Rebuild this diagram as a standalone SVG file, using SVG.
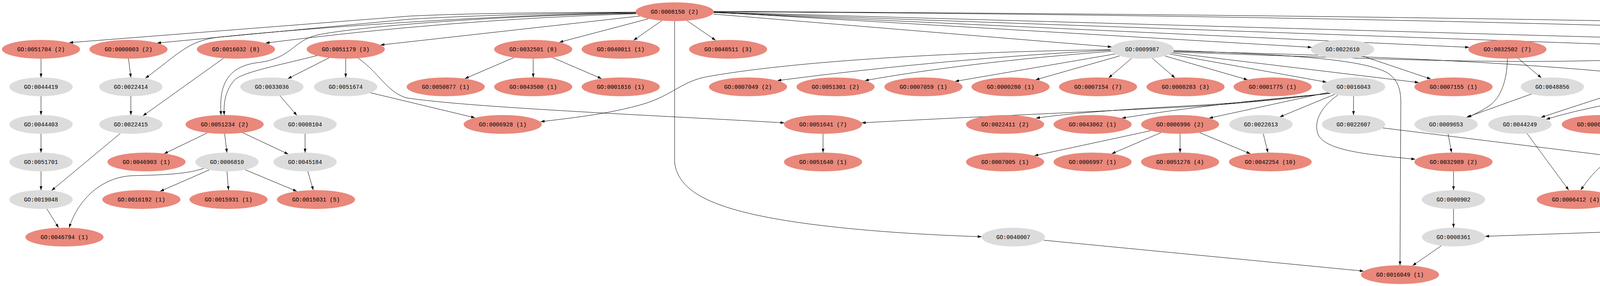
<svg xmlns="http://www.w3.org/2000/svg" width="6189" height="731" viewBox="0 0 6189 731">
<style>
.p{fill:#e9887b}
.g{fill:#dcdcdc}
text{font-family:"Liberation Mono","DejaVu Sans Mono",monospace;font-size:14.5px;text-anchor:middle;fill:#000}
#edges path{fill:none;stroke:#000;stroke-width:1;marker-end:url(#a)}
</style>
<defs>
<marker id="a" markerWidth="10" markerHeight="7" refX="10" refY="3.5" orient="auto" markerUnits="userSpaceOnUse"><path d="M0,0 L10,3.5 L0,7 z" fill="#000"/></marker>
</defs>
<rect width="6189" height="731" fill="#fff"/>
<g id="edges">
<path d="M1628,31 C1400,32 1200,34 1050,41 L177,109"/>
<path d="M1628,32 C1400,34 1200,40 1050,49 L402,110"/>
<path d="M1628,33 C1300,36 800,70 560,95 C480,104 455,140 372,200"/>
<path d="M1628,34 C1250,40 900,70 810,90 C750,105 745,150 660,160 C580,170 560,220 566,294"/>
<path d="M1629,35 Q1150,50 680,110"/>
<path d="M1638,41 L974,115"/>
<path d="M1660,48 L1432,108"/>
<path d="M1694,53 L1622,103"/>
<path d="M1759,53 L1832,103"/>
<path d="M1727,54 L1727,415 C1735,480 1800,520 1938,550 C2100,585 2350,600 2513,605"/>
<path d="M1826,36 L2846,120"/>
<path d="M1827,31 L3358,121"/>
<path d="M1827,32 L3761,121"/>
<path d="M1827,32 L4393,123"/>
<path d="M1827,31 L5091,123"/>
<path d="M1827,30 Q4000,41 5631,122"/>
<path d="M1827,29 Q4800,45 5846,109"/>
<path d="M105,150 L105,198"/>
<path d="M105,246 L105,294"/>
<path d="M105,342 L105,390"/>
<path d="M105,438 L105,486"/>
<path d="M120,534 L150,582"/>
<path d="M329,150 L335,198"/>
<path d="M335,246 L335,294"/>
<path d="M572,149 L366,296"/>
<path d="M308,341 L132,487"/>
<path d="M842,148 L737,201"/>
<path d="M885,150 L885,198"/>
<path d="M812,142 C700,170 620,185 600,205 C578,230 572,260 574,294"/>
<path d="M916,148 C970,185 990,235 1040,250 C1200,275 1700,296 2008,314"/>
<path d="M717,245 L760,295"/>
<path d="M781,342 L781,390"/>
<path d="M530,340 L420,393"/>
<path d="M575,342 L581,390"/>
<path d="M621,339 L738,394"/>
<path d="M536,434 L410,489"/>
<path d="M581,438 L585,486"/>
<path d="M628,434 L760,489"/>
<path d="M788,438 L802,486"/>
<path d="M522,430 C480,445 420,447 340,449 C260,452 200,510 177,582"/>
<path d="M948,237 L1216,301"/>
<path d="M1316,147 L1190,201"/>
<path d="M1365,150 L1365,198"/>
<path d="M1414,147 L1540,201"/>
<path d="M2845,128 Q2420,150 1990,206"/>
<path d="M2846,131 Q2470,160 2214,206"/>
<path d="M2854,138 L2445,208"/>
<path d="M2866,143 L2651,204"/>
<path d="M2897,149 L2838,199"/>
<path d="M2950,149 L3008,199"/>
<path d="M2843,127 C2400,133 2000,160 1800,198 C1740,213 1720,243 1650,265 C1560,292 1450,303 1384,311"/>
<path d="M2982,143 L3194,204"/>
<path d="M2994,138 L3396,210"/>
<path d="M2999,135 L3632,211"/>
<path d="M3490,144 L3663,202"/>
<path d="M3004,129 C3300,140 3480,150 3550,185 C3590,210 3586,250 3586,280 L3584,678"/>
<path d="M3004,131 Q3900,150 4313,205"/>
<path d="M3004,133 C3500,150 3800,162 4076,155 C4400,150 4750,175 4918,206"/>
<path d="M3886,149 L3946,199"/>
<path d="M3859,150 C3858,200 3845,250 3810,272 C3790,285 3775,292 3757,300"/>
<path d="M3921,240 L3754,300"/>
<path d="M3707,342 L3716,390"/>
<path d="M3425,243 C3385,270 3360,310 3375,345 C3395,385 3500,395 3623,407"/>
<path d="M3721,438 L3721,486"/>
<path d="M3721,534 L3721,582"/>
<path d="M3690,628 L3616,679"/>
<path d="M2672,614 L3491,693"/>
<path d="M5748,527 C5710,535 5690,537 5640,540 L3802,604"/>
<path d="M3405,238 C3300,252 3150,268 3000,275 C2700,290 2400,303 2206,314"/>
<path d="M3405,238 C3300,252 3150,265 3050,270 C2900,278 2750,288 2652,302"/>
<path d="M3405,239 Q3100,265 2872,302"/>
<path d="M3400,236 L3095,302"/>
<path d="M3417,241 L3276,299"/>
<path d="M3465,246 L3465,294"/>
<path d="M2946,334 L2648,398"/>
<path d="M2972,339 L2846,393"/>
<path d="M3021,342 L3021,390"/>
<path d="M3071,339 L3201,393"/>
<path d="M3234,342 L3246,390"/>
<path d="M2107,342 L2107,390"/>
<path d="M3540,327 L4159,403"/>
<path d="M4547,245 C4500,280 4470,310 4440,335 C4410,360 4360,380 4305,394"/>
<path d="M4419,144 L4237,204"/>
<path d="M4449,149 L4395,199"/>
<path d="M4498,149 L4552,199"/>
<path d="M4529,143 L4728,205"/>
<path d="M4547,136 Q4900,158 5140,209"/>
<path d="M4215,244 L4288,295"/>
<path d="M4129,240 L3945,300"/>
<path d="M4310,238 Q4100,262 3958,305"/>
<path d="M4319,240 L4154,298"/>
<path d="M4415,242 L4534,298"/>
<path d="M4443,233 L4917,307"/>
<path d="M4523,242 L4375,298"/>
<path d="M4577,246 L4577,294"/>
<path d="M4623,243 L4738,297"/>
<path d="M4650,239 C4850,255 5050,268 5175,276 C5240,282 5280,290 5312,302"/>
<path d="M4660,235 L5108,307"/>
<path d="M4784,246 L4784,294"/>
<path d="M4827,242 L4946,298"/>
<path d="M5150,148 L5038,201"/>
<path d="M5242,148 L5357,202"/>
<path d="M5268,144 L5528,207"/>
<path d="M5247,243 L5345,296"/>
<path d="M5441,243 L5551,297"/>
<path d="M5591,246 L5592,294"/>
<path d="M5592,342 L5592,486"/>
<path d="M5743,148 L5816,199"/>
<path d="M5772,142 L6010,204"/>
<path d="M5715,150 C5725,250 5760,380 5808,486"/>
<path d="M3909,341 L4016,486"/>
<path d="M4258,336 C4200,355 4150,380 4110,415 C4080,440 4060,465 4047,486"/>
<path d="M4554,341 L4503,391"/>
<path d="M4724,337 L4535,397"/>
<path d="M4415,428 L4108,494"/>
<path d="M4434,434 L4305,489"/>
<path d="M4480,438 L4480,486"/>
<path d="M4759,432 L4545,492"/>
<path d="M4931,334 C4850,355 4760,375 4720,390 C4690,405 4685,440 4685,486"/>
<path d="M5004,342 L5034,390"/>
<path d="M5047,335 L5256,396"/>
<path d="M5119,334 L4890,396"/>
<path d="M5149,340 L5080,391"/>
<path d="M5211,340 L5287,391"/>
<path d="M5009,436 L4913,489"/>
<path d="M5071,437 L5116,487"/>
<path d="M5040,437 C5020,470 5005,520 4995,570 C4985,620 4960,650 4918,680"/>
<path d="M4723,532 L4811,584"/>
<path d="M4869,534 L4856,582"/>
<path d="M4857,630 L4873,678"/>
<path d="M5137,534 L5137,582"/>
<path d="M5137,630 L5137,678"/>
<path d="M5332,438 L5356,486"/>
<path d="M5376,434 L5536,490"/>
</g>
<g id="n0008150"><ellipse class="p" cx="1727" cy="30" rx="100" ry="24"/><text x="1727" y="35">GO:0008150 (2)</text></g>
<g id="n0051704"><ellipse class="p" cx="105" cy="126" rx="100" ry="24"/><text x="105" y="131">GO:0051704 (2)</text></g>
<g id="n0000003"><ellipse class="p" cx="329" cy="126" rx="100" ry="24"/><text x="329" y="131">GO:0000003 (2)</text></g>
<g id="n0016032"><ellipse class="p" cx="604" cy="126" rx="100" ry="24"/><text x="604" y="131">GO:0016032 (8)</text></g>
<g id="n0051179"><ellipse class="p" cx="885" cy="126" rx="100" ry="24"/><text x="885" y="131">GO:0051179 (3)</text></g>
<g id="n0032501"><ellipse class="p" cx="1365" cy="126" rx="100" ry="24"/><text x="1365" y="131">GO:0032501 (8)</text></g>
<g id="n0040011"><ellipse class="p" cx="1589" cy="126" rx="100" ry="24"/><text x="1589" y="131">GO:0040011 (1)</text></g>
<g id="n0048511"><ellipse class="p" cx="1864" cy="126" rx="100" ry="24"/><text x="1864" y="131">GO:0048511 (3)</text></g>
<g id="n0009987"><ellipse class="g" cx="2924" cy="126" rx="81" ry="24"/><text x="2924" y="131">GO:0009987</text></g>
<g id="n0022610"><ellipse class="g" cx="3437" cy="126" rx="81" ry="24"/><text x="3437" y="131">GO:0022610</text></g>
<g id="n0032502"><ellipse class="p" cx="3859" cy="126" rx="100" ry="24"/><text x="3859" y="131">GO:0032502 (7)</text></g>
<g id="n0008152"><ellipse class="g" cx="4473" cy="126" rx="81" ry="24"/><text x="4473" y="131">GO:0008152</text></g>
<g id="n0050896"><ellipse class="p" cx="5196" cy="126" rx="106" ry="24"/><text x="5196" y="131">GO:0050896 (14)</text></g>
<g id="n0065007"><ellipse class="g" cx="5711" cy="126" rx="81" ry="24"/><text x="5711" y="131">GO:0065007</text></g>
<g id="n0002376"><ellipse class="p" cx="5917" cy="126" rx="100" ry="24"/><text x="5917" y="131">GO:0002376 (5)</text></g>
<g id="n0044419"><ellipse class="g" cx="105" cy="222" rx="81" ry="24"/><text x="105" y="227">GO:0044419</text></g>
<g id="n0022414"><ellipse class="g" cx="335" cy="222" rx="81" ry="24"/><text x="335" y="227">GO:0022414</text></g>
<g id="n0033036"><ellipse class="g" cx="696" cy="222" rx="81" ry="24"/><text x="696" y="227">GO:0033036</text></g>
<g id="n0051674"><ellipse class="g" cx="885" cy="222" rx="81" ry="24"/><text x="885" y="227">GO:0051674</text></g>
<g id="n0050877"><ellipse class="p" cx="1141" cy="222" rx="100" ry="24"/><text x="1141" y="227">GO:0050877 (1)</text></g>
<g id="n0043500"><ellipse class="p" cx="1365" cy="222" rx="100" ry="24"/><text x="1365" y="227">GO:0043500 (1)</text></g>
<g id="n0001816"><ellipse class="p" cx="1589" cy="222" rx="100" ry="24"/><text x="1589" y="227">GO:0001816 (1)</text></g>
<g id="n0007049"><ellipse class="p" cx="1915" cy="222" rx="100" ry="24"/><text x="1915" y="227">GO:0007049 (2)</text></g>
<g id="n0051301"><ellipse class="p" cx="2139" cy="222" rx="100" ry="24"/><text x="2139" y="227">GO:0051301 (2)</text></g>
<g id="n0007059"><ellipse class="p" cx="2364" cy="222" rx="100" ry="24"/><text x="2364" y="227">GO:0007059 (1)</text></g>
<g id="n0000280"><ellipse class="p" cx="2587" cy="222" rx="100" ry="24"/><text x="2587" y="227">GO:0000280 (1)</text></g>
<g id="n0007154"><ellipse class="p" cx="2811" cy="222" rx="100" ry="24"/><text x="2811" y="227">GO:0007154 (7)</text></g>
<g id="n0008283"><ellipse class="p" cx="3035" cy="222" rx="100" ry="24"/><text x="3035" y="227">GO:0008283 (3)</text></g>
<g id="n0001775"><ellipse class="p" cx="3258" cy="222" rx="100" ry="24"/><text x="3258" y="227">GO:0001775 (1)</text></g>
<g id="n0016043"><ellipse class="g" cx="3465" cy="222" rx="81" ry="24"/><text x="3465" y="227">GO:0016043</text></g>
<g id="n0007155"><ellipse class="p" cx="3721" cy="222" rx="100" ry="24"/><text x="3721" y="227">GO:0007155 (1)</text></g>
<g id="n0048856"><ellipse class="g" cx="3974" cy="222" rx="81" ry="24"/><text x="3974" y="227">GO:0048856</text></g>
<g id="n0009058"><ellipse class="g" cx="4183" cy="222" rx="81" ry="24"/><text x="4183" y="227">GO:0009058</text></g>
<g id="n0044237"><ellipse class="g" cx="4371" cy="222" rx="81" ry="24"/><text x="4371" y="227">GO:0044237</text></g>
<g id="n0043170"><ellipse class="p" cx="4577" cy="222" rx="100" ry="24"/><text x="4577" y="227">GO:0043170 (7)</text></g>
<g id="n0044238"><ellipse class="g" cx="4784" cy="222" rx="81" ry="24"/><text x="4784" y="227">GO:0044238</text></g>
<g id="n0051606"><ellipse class="p" cx="4993" cy="222" rx="100" ry="24"/><text x="4993" y="227">GO:0051606 (1)</text></g>
<g id="n0009056"><ellipse class="g" cx="5208" cy="222" rx="81" ry="24"/><text x="5208" y="227">GO:0009056</text></g>
<g id="n0006950"><ellipse class="g" cx="5400" cy="222" rx="81" ry="24"/><text x="5400" y="227">GO:0006950</text></g>
<g id="n0009719"><ellipse class="g" cx="5591" cy="222" rx="81" ry="24"/><text x="5591" y="227">GO:0009719</text></g>
<g id="n0065009"><ellipse class="p" cx="5848" cy="222" rx="100" ry="24"/><text x="5848" y="227">GO:0065009 (2)</text></g>
<g id="n0050789"><ellipse class="p" cx="6079" cy="222" rx="106" ry="24"/><text x="6079" y="227">GO:0050789 (21)</text></g>
<g id="n0044403"><ellipse class="g" cx="105" cy="318" rx="81" ry="24"/><text x="105" y="323">GO:0044403</text></g>
<g id="n0022415"><ellipse class="g" cx="335" cy="318" rx="81" ry="24"/><text x="335" y="323">GO:0022415</text></g>
<g id="n0051234"><ellipse class="p" cx="575" cy="318" rx="100" ry="24"/><text x="575" y="323">GO:0051234 (2)</text></g>
<g id="n0008104"><ellipse class="g" cx="781" cy="318" rx="81" ry="24"/><text x="781" y="323">GO:0008104</text></g>
<g id="n0006928"><ellipse class="p" cx="1287" cy="318" rx="100" ry="24"/><text x="1287" y="323">GO:0006928 (1)</text></g>
<g id="n0051641"><ellipse class="p" cx="2107" cy="318" rx="100" ry="24"/><text x="2107" y="323">GO:0051641 (7)</text></g>
<g id="n0022411"><ellipse class="p" cx="2573" cy="318" rx="100" ry="24"/><text x="2573" y="323">GO:0022411 (2)</text></g>
<g id="n0043062"><ellipse class="p" cx="2797" cy="318" rx="100" ry="24"/><text x="2797" y="323">GO:0043062 (1)</text></g>
<g id="n0006996"><ellipse class="p" cx="3021" cy="318" rx="100" ry="24"/><text x="3021" y="323">GO:0006996 (2)</text></g>
<g id="n0022613"><ellipse class="g" cx="3228" cy="318" rx="81" ry="24"/><text x="3228" y="323">GO:0022613</text></g>
<g id="n0022607"><ellipse class="g" cx="3465" cy="318" rx="81" ry="24"/><text x="3465" y="323">GO:0022607</text></g>
<g id="n0009653"><ellipse class="g" cx="3702" cy="318" rx="81" ry="24"/><text x="3702" y="323">GO:0009653</text></g>
<g id="n0044249"><ellipse class="g" cx="3891" cy="318" rx="81" ry="24"/><text x="3891" y="323">GO:0044249</text></g>
<g id="n0006793"><ellipse class="p" cx="4098" cy="318" rx="100" ry="24"/><text x="4098" y="323">GO:0006793 (3)</text></g>
<g id="n0009059"><ellipse class="p" cx="4321" cy="318" rx="100" ry="24"/><text x="4321" y="323">GO:0009059 (5)</text></g>
<g id="n0044260"><ellipse class="g" cx="4577" cy="318" rx="81" ry="24"/><text x="4577" y="323">GO:0044260</text></g>
<g id="n0019538"><ellipse class="p" cx="4784" cy="318" rx="100" ry="24"/><text x="4784" y="323">GO:0019538 (1)</text></g>
<g id="n0006139"><ellipse class="g" cx="4989" cy="318" rx="81" ry="24"/><text x="4989" y="323">GO:0006139</text></g>
<g id="n0043283"><ellipse class="g" cx="5179" cy="318" rx="81" ry="24"/><text x="5179" y="323">GO:0043283</text></g>
<g id="n0009057"><ellipse class="p" cx="5385" cy="318" rx="100" ry="24"/><text x="5385" y="323">GO:0009057 (6)</text></g>
<g id="n0006974"><ellipse class="g" cx="5592" cy="318" rx="81" ry="24"/><text x="5592" y="323">GO:0006974</text></g>
<g id="n0051701"><ellipse class="g" cx="105" cy="414" rx="81" ry="24"/><text x="105" y="419">GO:0051701</text></g>
<g id="n0046903"><ellipse class="p" cx="375" cy="414" rx="100" ry="24"/><text x="375" y="419">GO:0046903 (1)</text></g>
<g id="n0006810"><ellipse class="g" cx="581" cy="414" rx="81" ry="24"/><text x="581" y="419">GO:0006810</text></g>
<g id="n0045184"><ellipse class="g" cx="781" cy="414" rx="81" ry="24"/><text x="781" y="419">GO:0045184</text></g>
<g id="n0051640"><ellipse class="p" cx="2107" cy="414" rx="100" ry="24"/><text x="2107" y="419">GO:0051640 (1)</text></g>
<g id="n0007005"><ellipse class="p" cx="2573" cy="414" rx="100" ry="24"/><text x="2573" y="419">GO:0007005 (1)</text></g>
<g id="n0006997"><ellipse class="p" cx="2797" cy="414" rx="100" ry="24"/><text x="2797" y="419">GO:0006997 (1)</text></g>
<g id="n0051276"><ellipse class="p" cx="3021" cy="414" rx="100" ry="24"/><text x="3021" y="419">GO:0051276 (4)</text></g>
<g id="n0042254"><ellipse class="p" cx="3252" cy="414" rx="106" ry="24"/><text x="3252" y="419">GO:0042254 (10)</text></g>
<g id="n0032989"><ellipse class="p" cx="3721" cy="414" rx="100" ry="24"/><text x="3721" y="419">GO:0032989 (2)</text></g>
<g id="n0065003"><ellipse class="p" cx="4248" cy="414" rx="100" ry="24"/><text x="4248" y="419">GO:0065003 (7)</text></g>
<g id="n0044267"><ellipse class="g" cx="4480" cy="414" rx="81" ry="24"/><text x="4480" y="419">GO:0044267</text></g>
<g id="n0043412"><ellipse class="p" cx="4824" cy="414" rx="100" ry="24"/><text x="4824" y="419">GO:0043412 (2)</text></g>
<g id="n0016070"><ellipse class="p" cx="5049" cy="414" rx="100" ry="24"/><text x="5049" y="419">GO:0016070 (9)</text></g>
<g id="n0006259"><ellipse class="p" cx="5320" cy="414" rx="100" ry="24"/><text x="5320" y="419">GO:0006259 (4)</text></g>
<g id="n0019048"><ellipse class="g" cx="105" cy="510" rx="81" ry="24"/><text x="105" y="515">GO:0019048</text></g>
<g id="n0016192"><ellipse class="p" cx="362" cy="510" rx="100" ry="24"/><text x="362" y="515">GO:0016192 (1)</text></g>
<g id="n0015931"><ellipse class="p" cx="585" cy="510" rx="100" ry="24"/><text x="585" y="515">GO:0015931 (1)</text></g>
<g id="n0015031"><ellipse class="p" cx="809" cy="510" rx="100" ry="24"/><text x="809" y="515">GO:0015031 (5)</text></g>
<g id="n0000902"><ellipse class="g" cx="3721" cy="510" rx="81" ry="24"/><text x="3721" y="515">GO:0000902</text></g>
<g id="n0006412"><ellipse class="p" cx="4034" cy="510" rx="100" ry="24"/><text x="4034" y="515">GO:0006412 (4)</text></g>
<g id="n0051261"><ellipse class="p" cx="4256" cy="510" rx="100" ry="24"/><text x="4256" y="515">GO:0051261 (1)</text></g>
<g id="n0006464"><ellipse class="p" cx="4480" cy="510" rx="100" ry="24"/><text x="4480" y="515">GO:0006464 (3)</text></g>
<g id="n0006350"><ellipse class="g" cx="4687" cy="510" rx="81" ry="24"/><text x="4687" y="515">GO:0006350</text></g>
<g id="n0032774"><ellipse class="g" cx="4875" cy="510" rx="81" ry="24"/><text x="4875" y="515">GO:0032774</text></g>
<g id="n0006396"><ellipse class="p" cx="5137" cy="510" rx="106" ry="24"/><text x="5137" y="515">GO:0006396 (16)</text></g>
<g id="n0006260"><ellipse class="p" cx="5368" cy="510" rx="100" ry="24"/><text x="5368" y="515">GO:0006260 (5)</text></g>
<g id="n0006281"><ellipse class="p" cx="5592" cy="510" rx="100" ry="24"/><text x="5592" y="515">GO:0006281 (3)</text></g>
<g id="n0065008"><ellipse class="p" cx="5816" cy="510" rx="100" ry="24"/><text x="5816" y="515">GO:0065008 (6)</text></g>
<g id="n0046794"><ellipse class="p" cx="165" cy="606" rx="100" ry="24"/><text x="165" y="611">GO:0046794 (1)</text></g>
<g id="n0040007"><ellipse class="g" cx="2594" cy="606" rx="81" ry="24"/><text x="2594" y="611">GO:0040007</text></g>
<g id="n0008361"><ellipse class="g" cx="3721" cy="606" rx="81" ry="24"/><text x="3721" y="611">GO:0008361</text></g>
<g id="n0006351"><ellipse class="p" cx="4849" cy="606" rx="106" ry="24"/><text x="4849" y="611">GO:0006351 (15)</text></g>
<g id="n0008380"><ellipse class="g" cx="5137" cy="606" rx="81" ry="24"/><text x="5137" y="611">GO:0008380</text></g>
<g id="n0016049"><ellipse class="p" cx="3584" cy="702" rx="100" ry="24"/><text x="3584" y="707">GO:0016049 (1)</text></g>
<g id="n0006354"><ellipse class="p" cx="4881" cy="702" rx="100" ry="24"/><text x="4881" y="707">GO:0006354 (3)</text></g>
<g id="n0000375"><ellipse class="p" cx="5137" cy="702" rx="100" ry="24"/><text x="5137" y="707">GO:0000375 (9)</text></g>
</svg>
